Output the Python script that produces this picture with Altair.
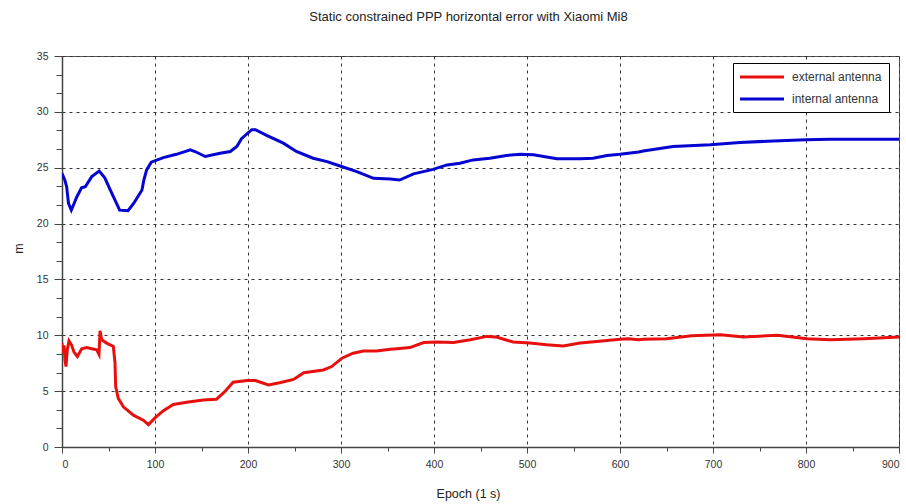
import altair as alt
import pandas as pd

# Horizontal error (m) per epoch for the two antenna setups
ext_epoch = [0, 0.7, 2.2, 3.2, 4.3, 5.7, 7.5, 10.4, 12.9, 16.5, 21.2, 26.5, 31.9, 37.3, 39.8,
             40.9, 42.7, 48, 55.2, 57, 57.7, 60.5, 66, 76.7, 87.4, 93, 100, 109, 119.7, 134,
             152, 166, 175, 184, 199, 208, 222, 234, 249, 260, 281, 290, 301, 313, 324, 338,
             353, 360, 374, 389, 403, 421, 439, 457, 467, 485, 503, 521, 539, 557, 575, 600,
             609, 620, 625, 650, 677, 708, 733, 769, 790, 801, 826, 862, 900]
ext_err = [9.3, 8.4, 9.1, 7.8, 7.2, 8.7, 9.5, 9.1, 8.5, 8.1, 8.8, 8.9, 8.8, 8.7, 8.3,
           10.4, 9.6, 9.3, 9.0, 7.5, 5.4, 4.35, 3.6, 2.85, 2.4, 2.0, 2.6, 3.25, 3.8, 4.0,
           4.2, 4.27, 4.95, 5.8, 5.95, 5.95, 5.55, 5.75, 6.05, 6.65, 6.9, 7.2, 7.95, 8.4, 8.6, 8.6,
           8.75, 8.8, 8.9, 9.35, 9.4, 9.35, 9.6, 9.9, 9.85, 9.4, 9.3, 9.15, 9.05, 9.3, 9.45, 9.65,
           9.7, 9.6, 9.65, 9.7, 9.95, 10.05, 9.85, 10.0, 9.8, 9.7, 9.6, 9.7, 9.85]

int_epoch = [0, 3, 5, 7, 10, 13, 16, 21, 25, 32, 40, 46, 52, 57, 62, 71, 77, 86, 88, 91, 96,
             109, 123, 138, 143, 154, 170, 181, 188, 193, 204, 208, 220, 238, 252, 270, 285,
             299, 317, 335, 353, 363, 378, 399, 414, 428, 442, 460, 478, 493, 507, 532, 557,
             571, 586, 600, 620, 625, 657, 697, 729, 765, 800, 826, 900]
int_err = [24.5, 23.9, 23.3, 21.8, 21.2, 21.8, 22.4, 23.2, 23.3, 24.2, 24.7, 24.1, 23.0, 22.1,
           21.2, 21.15, 21.8, 23.0, 23.9, 24.8, 25.5, 25.9, 26.2, 26.6, 26.45, 26.0, 26.3, 26.45,
           26.9, 27.6, 28.4, 28.4, 27.9, 27.2, 26.45, 25.85, 25.55, 25.15, 24.65, 24.05, 24.0,
           23.9, 24.45, 24.85, 25.25, 25.4, 25.7, 25.85, 26.1, 26.2, 26.15, 25.8, 25.8, 25.85,
           26.1, 26.2, 26.4, 26.5, 26.9, 27.05, 27.25, 27.4, 27.5, 27.55, 27.55]

series_names = ["external antenna", "internal antenna"]
series_colors = ["#e8100f", "#0505d2"]

x_ticks = list(range(0, 901, 50))
y_ticks = [round(i * 5 / 3, 4) for i in range(22)]

df = pd.concat([
    pd.DataFrame({"epoch": ext_epoch, "err": ext_err, "series": series_names[0]}),
    pd.DataFrame({"epoch": int_epoch, "err": int_err, "series": series_names[1]}),
])

FONT = "Liberation Sans"
x_major = "datum.value % 100 === 0"
y_major = "abs(datum.value / 5 - round(datum.value / 5)) < 0.001"

x_axis = alt.Axis(
    values=x_ticks,
    labelExpr=f"{x_major} ? datum.label : ''",
    tickSize={"condition": {"test": x_major, "value": 6}, "value": 4},
    gridOpacity={"condition": {"test": x_major, "value": 1}, "value": 0},
    labelPadding=6,
    titleX=406, titleY=46, titleBaseline="middle",
)
y_axis = alt.Axis(
    values=y_ticks,
    format="d",
    labelExpr=f"{y_major} ? datum.label : ''",
    tickSize={"condition": {"test": y_major, "value": 8}, "value": 6},
    gridOpacity={"condition": {"test": y_major, "value": 1}, "value": 0},
    labelPadding=6,
    titleX=-44, titleY=192, titleBaseline="middle", titleAngle=270,
)

chart = alt.Chart(df).mark_line(strokeWidth=3, clip=True).encode(
    x=alt.X("epoch:Q", title="Epoch (1 s)",
            scale=alt.Scale(domain=[0, 900], nice=False, zero=False), axis=x_axis),
    y=alt.Y("err:Q", title="m",
            scale=alt.Scale(domain=[0, 35], nice=False), axis=y_axis),
    color=alt.Color("series:N",
                    scale=alt.Scale(domain=series_names, range=series_colors),
                    legend=alt.Legend(
                        title=None, orient="none", legendX=671, legendY=7,
                        symbolType="M0,0H8", symbolSize=121, symbolStrokeWidth=3,
                        symbolOffset=-7, labelOffset=45, padding=7, rowPadding=9,
                        strokeColor="#000000", fillColor="#ffffff",
                        labelFont=FONT, labelFontSize=12, labelColor="#333333",
                    )),
).properties(
    width=837, height=391,
    title=alt.TitleParams(
        "Static constrained PPP horizontal error with Xiaomi Mi8",
        font=FONT, fontSize=13, fontWeight="normal", color="#222222",
        anchor="middle", dx=-12, offset=27,
    ),
    autosize=alt.AutoSizeParams(type="none"),
    padding={"left": 62, "top": 56, "right": 7, "bottom": 57},
).configure(
    background="white",
).configure_view(
    stroke="#555555", strokeWidth=1,
).configure_axis(
    domainColor="#444444", domainWidth=1.5,
    tickColor="#444444", tickWidth=1,
    gridColor="#333333", gridDash=[3, 4], gridWidth=1,
    labelFont=FONT, labelFontSize=10.5, labelColor="#333333",
    titleFont=FONT, titleFontSize=12.5, titleFontWeight="normal", titleColor="#222222",
)

chart.save("out.html", embed_options={"renderer": "svg", "actions": False})
